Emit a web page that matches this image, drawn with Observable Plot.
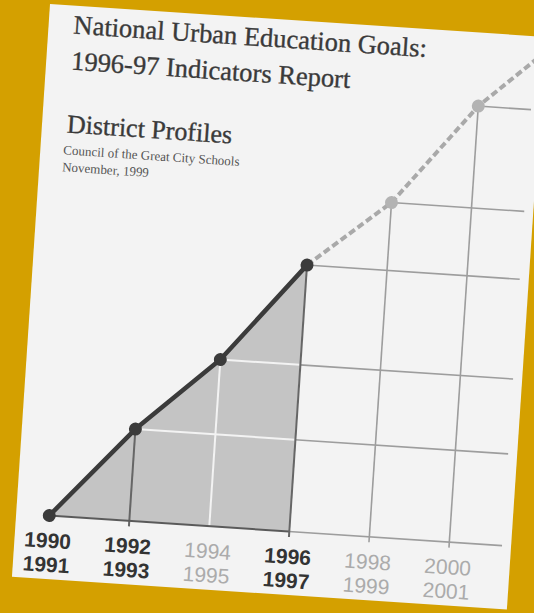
<!DOCTYPE html>
<html>
<head>
<meta charset="utf-8">
<script src="https://cdn.jsdelivr.net/npm/d3@7"></script>
<script src="https://cdn.jsdelivr.net/npm/@observablehq/plot@0.6"></script>
<style>
  html, body { margin: 0; padding: 0; }
  body { width: 534px; height: 613px; overflow: hidden; background: #d4a000; position: relative; }
  #page {
    position: absolute; left: 50px; top: 4px; width: 496px; height: 574px;
    background: #f3f3f3; overflow: hidden;
    transform-origin: 0 0; transform: rotate(3.8deg);
  }
  #chart { position: absolute; left: 0; top: 0; }
  .serif { position: absolute; font-family: "Liberation Serif", "Times New Roman", serif; color: #3a3a3a; white-space: nowrap; -webkit-text-stroke: 0.35px #3a3a3a; }
  #title { left: 25px; top: 1px; font-size: 26.5px; line-height: 36px; }
  #sub { left: 25px; top: 106px; font-size: 26px; line-height: 1; }
  #src { left: 23px; top: 137px; font-size: 13px; line-height: 16.5px; color: #555; -webkit-text-stroke: 0; }
</style>
</head>
<body>
<div id="page">
  <div id="chart"></div>
  <div class="serif" id="title">National Urban Education Goals:<br>1996-97 Indicators Report</div>
  <div class="serif" id="sub">District Profiles</div>
  <div class="serif" id="src">Council of the Great City Schools<br>November, 1999</div>
</div>
<script>
// School-year periods (start year), their two-line tick labels, and index values
const periods     = [1990, 1992, 1994, 1996, 1998, 2000];
const labelTop    = ["1990", "1992", "1994", "1996", "1998", "2000"];
const labelBottom = ["1991", "1993", "1995", "1997", "1999", "2001"];
const values      = [0, 92, 167, 267, 335, 437];
const reported    = [true, true, false, true, false, false];   // bold labels
const actual      = [true, true, true, true, false, false];    // solid vs projected
// continuation of the projected trend beyond the last period
const trendYears  = [2002];
const trendValues = [511];

const lastActual = 1996;
const gridEnd = 2001.33;
const tickLen = 6;

const rows = periods.map((p, i) => ({
  year: p, value: values[i], top: labelTop[i], bottom: labelBottom[i],
  bold: reported[i], actual: actual[i]
}));
const solid = rows.filter(d => d.actual);
const projected = rows.filter(d => d.year >= lastActual)
  .concat(trendYears.map((y, i) => ({year: y, value: trendValues[i]})));

const dark = "#3b3b3b", grid = "#9d9d9d", paper = "#f3f3f3";

const chart = Plot.plot({
  width: 496, height: 574,
  marginTop: 0, marginRight: 0, marginBottom: 0, marginLeft: 0,
  style: {background: "transparent", overflow: "visible"},
  x: {type: "linear", domain: [1990, 2000], range: [32.7, 433.6], axis: null},
  y: {type: "linear", domain: [0, 437], range: [510, 73], axis: null},
  marks: [
    // shaded area under actual results
    Plot.areaY(solid, {x: "year", y: "value", fill: "#c4c4c4"}),
    // white gridlines inside the shaded area
    Plot.ruleY(rows.filter(d => d.value > 0 && d.year < lastActual),
      {y: "value", x1: "year", x2: () => lastActual, stroke: paper, strokeWidth: 2}),
    Plot.ruleX(rows.filter(d => d.actual && !d.bold),
      {x: "year", y1: () => 0, y2: "value", stroke: paper, strokeWidth: 2}),
    // gray gridlines to the right
    Plot.ruleY(rows, {y: "value", x1: d => Math.max(d.year, lastActual), x2: () => gridEnd,
      stroke: grid, strokeWidth: 1.6}),
    Plot.ruleX(rows.filter(d => !d.actual),
      {x: "year", y1: () => -tickLen, y2: "value", stroke: grid, strokeWidth: 1.6}),
    // dark verticals for reported years
    Plot.ruleX(rows.filter(d => d.bold && d.value > 0),
      {x: "year", y1: () => -tickLen, y2: "value", stroke: "#666", strokeWidth: 2}),
    // dark baseline under the area
    Plot.ruleY([0], {x1: 1990, x2: lastActual, stroke: "#5a5a5a", strokeWidth: 2}),
    // projected dashed trend
    Plot.line(projected, {x: "year", y: "value", stroke: "#a9a9a9", strokeWidth: 4,
      strokeDasharray: "7,3.5", strokeLinecap: "butt", strokeLinejoin: "miter"}),
    // actual solid line
    Plot.line(solid, {x: "year", y: "value", stroke: dark, strokeWidth: 4.5}),
    Plot.dot(rows.filter(d => !d.actual), {x: "year", y: "value", r: 6.5, fill: "#b3b3b3"}),
    Plot.dot(solid, {x: "year", y: "value", r: 6.5, fill: dark}),
    // two-line period labels
    Plot.text(rows.filter(d => d.bold), {x: "year", y: () => 0, text: "top", dy: 25.5,
      fontSize: 21, fontWeight: "bold", fontFamily: "Liberation Sans, Arial, sans-serif", fill: "#333"}),
    Plot.text(rows.filter(d => d.bold), {x: "year", y: () => 0, text: "bottom", dy: 49.5,
      fontSize: 21, fontWeight: "bold", fontFamily: "Liberation Sans, Arial, sans-serif", fill: "#333"}),
    Plot.text(rows.filter(d => !d.bold), {x: "year", y: () => 0, text: "top", dy: 25.5,
      fontSize: 21, fontFamily: "Liberation Sans, Arial, sans-serif", fill: "#ababab"}),
    Plot.text(rows.filter(d => !d.bold), {x: "year", y: () => 0, text: "bottom", dy: 49.5,
      fontSize: 21, fontFamily: "Liberation Sans, Arial, sans-serif", fill: "#ababab"})
  ]
});
document.getElementById("chart").appendChild(chart);
</script>
</body>
</html>
